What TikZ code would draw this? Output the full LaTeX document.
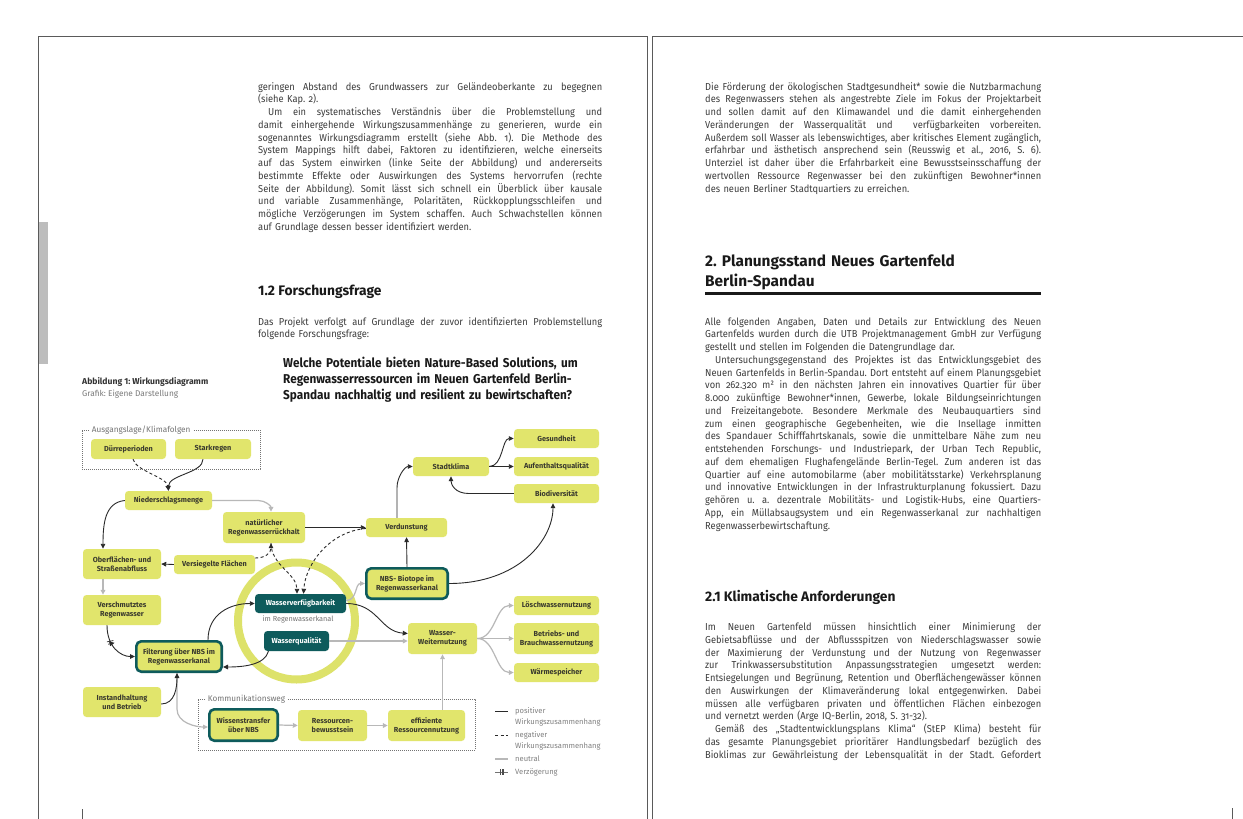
\documentclass[tikz,border=0pt]{standalone}
\usepackage{fontspec}
\setmainfont{Fira Sans}
\newfontfamily\bodyf[FakeStretch=0.92,Numbers=OldStyle]{Fira Sans}
\newfontfamily\condf[FakeStretch=0.92]{Fira Sans}
\usetikzlibrary{arrows.meta,decorations.markings,calc}
\definecolor{boxfill}{HTML}{E1E56C}
\definecolor{ringc}{HTML}{DDE26A}
\definecolor{tealc}{HTML}{0E5B5C}
\definecolor{linedark}{HTML}{2A2A2A}
\definecolor{lineneu}{HTML}{B8B8B8}
\definecolor{nodetxt}{HTML}{3A3A2E}
\definecolor{bodytxt}{HTML}{3C3C3C}
\definecolor{framec}{HTML}{5A5A5A}
\definecolor{capgray}{HTML}{7A7A7A}
\definecolor{barc}{HTML}{BDBDBD}
\newlength\colw
\newcommand\jl[1]{\makebox[\colw][s]{\spaceskip=0.25em plus 2em minus 0.1em\relax #1}\\}
\newcommand\ji[1]{\hspace*{10pt}\makebox[\dimexpr\colw-10pt\relax][s]{\spaceskip=0.25em plus 2em minus 0.1em\relax #1}\\}
\newcommand\nf{\fontsize{7.3}{9.2}\selectfont\bfseries}
\frenchspacing
\tikzset{
  bodytext/.style={anchor=base west, inner sep=0, align=left, text=bodytxt,
    font=\bodyf\fontsize{10.1}{12.75}\selectfont\frenchspacing},
  headtext/.style={anchor=base west, inner sep=0, align=left, text=black!90},
  box/.style={rectangle, rounded corners=3.5pt, fill=boxfill, inner sep=1pt,
    align=center, font=\nf, text=nodetxt},
  nbsbox/.style={box, draw=tealc, line width=2.6pt, rounded corners=5pt},
  darkbox/.style={box, fill=tealc, text=white},
  tipa/.tip={Triangle[length=5pt,width=4.6pt]},
  posl/.style={draw=linedark, line width=0.9pt, -tipa},
  negl/.style={posl, dash pattern=on 3pt off 2.5pt},
  neul/.style={draw=lineneu, line width=1.2pt, -tipa},
  dotframe/.style={draw=black!55, line width=0.6pt, dash pattern=on 0.7pt off 1.3pt},
  framelabel/.style={fill=white, inner xsep=2pt, inner ysep=0pt, anchor=west,
    font=\fontsize{8.2}{10}\selectfont, text=black!55},
  legtext/.style={anchor=base west, inner sep=0, text width=100pt, align=left,
    font=\fontsize{7.6}{10.5}\selectfont, text=black!50},
}
\begin{document}
\begin{tikzpicture}[x=1pt,y=-1pt]
\useasboundingbox (0,0) rectangle (1243,819);
\fill[white] (0,0) rectangle (1243,819);
% page frames
\fill[barc] (38,222) rectangle (48,364);
\draw[framec, line width=0.8pt] (38,819) -- (38,36) -- (647,36) -- (647,819);
\draw[framec, line width=0.8pt] (652,819) -- (652,36) -- (1243,36);
\draw[framec, line width=0.6pt] (82,809) -- (82,819);
\draw[framec, line width=0.6pt] (1232,808) -- (1232,819);

% ---------- left page text
\node[bodytext, text width=344pt] (lp1) at (258,90) {\setlength\colw{344pt}%
\jl{geringen Abstand des Grundwassers zur Geländeoberkante zu begegnen}
(siehe Kap. 2).\\
\ji{Um ein systematisches Verständnis über die Problemstellung und}
\jl{damit einhergehende Wirkungszusammenhänge zu generieren, wurde ein}
\jl{sogenanntes Wirkungsdiagramm erstellt (siehe Abb. 1). Die Methode des}
\jl{System Mappings hilft dabei, Faktoren zu identifizieren, welche einerseits}
\jl{auf das System einwirken (linke Seite der Abbildung) und andererseits}
\jl{bestimmte Effekte oder Auswirkungen des Systems hervorrufen (rechte}
\jl{Seite der Abbildung). Somit lässt sich schnell ein Überblick über kausale}
\jl{und variable Zusammenhänge, Polaritäten, Rückkopplungsschleifen und}
\jl{mögliche Verzögerungen im System schaffen. Auch Schwachstellen können}
auf Grundlage dessen besser identifiziert werden.};

\node[headtext, font=\bfseries\fontsize{13.8}{16}\selectfont] (lh1) at (258,295.5) {1.2 Forschungsfrage};

\node[bodytext, text width=344pt] (lp2) at (258,325) {\setlength\colw{344pt}%
\jl{Das Projekt verfolgt auf Grundlage der zuvor identifizierten Problemstellung}
folgende Forschungsfrage:};

\node[headtext, text width=330pt, font=\condf\bfseries\fontsize{12.8}{16}\selectfont] (lq) at (283,367.5) {%
Welche Potentiale bieten Nature-Based Solutions, um\\
Regenwasserressourcen im Neuen Gartenfeld Berlin-\\
Spandau nachhaltig und resilient zu bewirtschaften?};

\node[headtext, font=\bfseries\fontsize{8.6}{10}\selectfont, text=black!80] (cap1) at (82,384) {Abbildung 1: Wirkungsdiagramm};
\node[headtext, font=\fontsize{8.3}{10}\selectfont, text=capgray] (cap2) at (82,396) {Grafik: Eigene Darstellung};

% ---------- right page text
\node[bodytext, text width=336pt] (rp1) at (705,90) {\setlength\colw{336pt}%
\jl{Die Förderung der ökologischen Stadtgesundheit* sowie die Nutzbarmachung}
\jl{des Regenwassers stehen als angestrebte Ziele im Fokus der Projektarbeit}
\jl{und sollen damit auf den Klimawandel und die damit einhergehenden}
\jl{Veränderungen der Wasserqualität und \ verfügbarkeiten vorbereiten.}
\jl{Außerdem soll Wasser als lebenswichtiges, aber kritisches Element zugänglich,}
\jl{erfahrbar und ästhetisch ansprechend sein (Reusswig et al., 2016, S. 6).}
\jl{Unterziel ist daher über die Erfahrbarkeit eine Bewusstseinsschaffung der}
\jl{wertvollen Ressource Regenwasser bei den zukünftigen Bewohner*innen}
des neuen Berliner Stadtquartiers zu erreichen.};

\node[headtext, text width=340pt, font=\bfseries\fontsize{15.4}{20}\selectfont] (rh1) at (705,266.5) {%
2. Planungsstand Neues Gartenfeld\\Berlin-Spandau};
\draw[black!90, line width=3pt] (705,293.5) -- (1041,293.5);

\node[bodytext, text width=336pt] (rp2) at (705,325) {\setlength\colw{336pt}%
\jl{Alle folgenden Angaben, Daten und Details zur Entwicklung des Neuen}
\jl{Gartenfelds wurden durch die UTB Projektmanagement GmbH zur Verfügung}
gestellt und stellen im Folgenden die Datengrundlage dar.\\
\ji{Untersuchungsgegenstand des Projektes ist das Entwicklungsgebiet des}
\jl{Neuen Gartenfelds in Berlin-Spandau. Dort entsteht auf einem Planungsgebiet}
\jl{von 262.320 m² in den nächsten Jahren ein innovatives Quartier für über}
\jl{8.000 zukünftige Bewohner*innen, Gewerbe, lokale Bildungseinrichtungen}
\jl{und Freizeitangebote. Besondere Merkmale des Neubauquartiers sind}
\jl{zum einen geographische Gegebenheiten, wie die Insellage inmitten}
\jl{des Spandauer Schifffahrtskanals, sowie die unmittelbare Nähe zum neu}
\jl{entstehenden Forschungs- und Industriepark, der Urban Tech Republic,}
\jl{auf dem ehemaligen Flughafengelände Berlin-Tegel. Zum anderen ist das}
\jl{Quartier auf eine automobilarme (aber mobilitätsstarke) Verkehrsplanung}
\jl{und innovative Entwicklungen in der Infrastrukturplanung fokussiert. Dazu}
\jl{gehören u. a. dezentrale Mobilitäts- und Logistik-Hubs, eine Quartiers-}
\jl{App, ein Müllabsaugsystem und ein Regenwasserkanal zur nachhaltigen}
Regenwasserbewirtschaftung.};

\node[headtext, font=\bfseries\fontsize{13.8}{16}\selectfont] (rh2) at (705,601.5) {2.1 Klimatische Anforderungen};

\node[bodytext, text width=336pt] (rp3) at (705,630.5) {\setlength\colw{336pt}%
\jl{Im Neuen Gartenfeld müssen hinsichtlich einer Minimierung der}
\jl{Gebietsabflüsse und der Abflussspitzen von Niederschlagswasser sowie}
\jl{der Maximierung der Verdunstung und der Nutzung von Regenwasser}
\jl{zur Trinkwassersubstitution Anpassungsstrategien umgesetzt werden:}
\jl{Entsiegelungen und Begrünung, Retention und Oberflächengewässer können}
\jl{den Auswirkungen der Klimaveränderung lokal entgegenwirken. Dabei}
\jl{müssen alle verfügbaren privaten und öffentlichen Flächen einbezogen}
und vernetzt werden (Arge IQ-Berlin, 2018, S. 31-32).\\
\ji{Gemäß des „Stadtentwicklungsplans Klima“ (StEP Klima) besteht für}
\jl{das gesamte Planungsgebiet prioritärer Handlungsbedarf bezüglich des}
\makebox[\colw][s]{\spaceskip=0.25em plus 2em minus 0.1em\relax Bioklimas zur Gewährleistung der Lebensqualität in der Stadt. Gefordert}};

% ---------- diagram
\node[circle, draw=ringc, line width=8pt, minimum size=117pt, inner sep=0] (ring) at (296.5,621) {};

\node[dotframe, minimum width=178pt, minimum height=39pt, inner sep=0] (fr1) at (171,449.5) {};
\node[framelabel] (fr1l) at ([xshift=8pt]fr1.north west) {Ausgangslage/Klimafolgen};
\node[dotframe, minimum width=277pt, minimum height=51pt, inner sep=0] (fr2) at (336.5,724.5) {};
\node[framelabel] (fr2l) at ([xshift=8pt]fr2.north west) {Kommunikationsweg};

\node[box, minimum width=75pt, minimum height=20pt] (duerre) at (128.5,449) {Dürreperioden};
\node[box, minimum width=76pt, minimum height=20pt] (stark) at (213,449) {Starkregen};
\node[box, minimum width=87pt, minimum height=19pt] (nieder) at (168.5,500.5) {Niederschlagsmenge};
\node[box, minimum width=82pt, minimum height=31pt] (natur) at (264,527.5) {natürlicher\\Regenwasserrückhalt};
\node[box, minimum width=81pt, minimum height=19pt] (verd) at (406.5,527.5) {Verdunstung};
\node[box, minimum width=81pt, minimum height=19pt] (versieg) at (214.5,564.5) {Versiegelte Flächen};
\node[box, minimum width=78pt, minimum height=30pt] (oberfl) at (122,564) {Oberflächen- und\\Straßenabfluss};
\node[box, minimum width=78pt, minimum height=30pt] (versch) at (122,610) {Verschmutztes\\Regenwasser};
\node[nbsbox, minimum width=85.4pt, minimum height=30.4pt] (filter) at (179,656.5) {Filterung über NBS im\\Regenwasserkanal};
\node[box, minimum width=78pt, minimum height=30pt] (instand) at (122,702) {Instandhaltung\\und Betrieb};
\node[darkbox, minimum width=91pt, minimum height=19pt] (wverf) at (300.5,603.5) {Wasserverfügbarkeit};
\node[inner sep=0, font=\fontsize{7.3}{9}\selectfont, text=black!55] (imreg) at (298,619.5) {im Regenwasserkanal};
\node[darkbox, minimum width=65pt, minimum height=20pt] (wqual) at (296.5,641) {Wasserqualität};
\node[nbsbox, minimum width=81.4pt, minimum height=30.4pt] (nbsbio) at (407,583.5) {NBS- Biotope im\\Regenwasserkanal};
\node[box, minimum width=76pt, minimum height=19pt] (stadt) at (451,466.5) {Stadtklima};
\node[box, minimum width=85pt, minimum height=19pt] (gesund) at (556.5,438.5) {Gesundheit};
\node[box, minimum width=85pt, minimum height=19pt] (aufent) at (556.5,466.5) {Aufenthaltsqualität};
\node[box, minimum width=85pt, minimum height=19pt] (biodiv) at (556.5,493.5) {Biodiversität};
\node[box, minimum width=69pt, minimum height=31pt] (weiter) at (442.5,638.5) {Wasser-\\Weiternutzung};
\node[box, minimum width=85pt, minimum height=19pt] (loesch) at (556.5,605.5) {Löschwassernutzung};
\node[box, minimum width=85pt, minimum height=31pt] (betrieb) at (556.5,638.5) {Betriebs- und\\Brauchwassernutzung};
\node[box, minimum width=85pt, minimum height=19pt] (waerme) at (556.5,672.5) {Wärmespeicher};
\node[nbsbox, minimum width=68.4pt, minimum height=31.4pt] (wissen) at (243.5,725) {Wissenstransfer\\über NBS};
\node[box, minimum width=69pt, minimum height=31pt] (ressb) at (332.5,725.5) {Ressourcen-\\bewusstsein};
\node[box, minimum width=77pt, minimum height=31pt] (effiz) at (426.5,725.5) {effiziente\\Ressourcennutzung};

% neutral connectors
\draw[neul] (nieder.east) -- ++(46,0) .. controls +(7,0) and +(0,-6) .. ([xshift=7pt]natur.north);
\draw[neul] ([xshift=-19pt]oberfl.south) -- ([xshift=-19pt]versch.north);
\draw[neul] ([xshift=-2pt]filter.south) -- ++(0,36) .. controls +(0,14) and +(-12,0) .. ([yshift=-2pt]wissen.west);
\draw[neul] ([yshift=3pt]wverf.east) .. controls +(11,0) and +(-10,0) .. (nbsbio.west);
\draw[neul] (wqual.east) -- (wqual.east -| weiter.west);
\draw[neul] (wissen.east) -- (ressb.west);
\draw[neul] (ressb.east) -- (effiz.west);
\draw[neul] (weiter.south |- effiz.north) -- (weiter.south);
\draw[neul] (weiter.east) .. controls +(18,0) and +(-18,0) .. (loesch.west);
\draw[neul] (weiter.east) -- (betrieb.west);
\draw[neul] (weiter.east) .. controls +(18,0) and +(-18,0) .. (waerme.west);

% positive connectors
\draw[posl] (stark.south) ++(-10,0) .. controls +(0,14) and +(0,-16) .. (nieder.north);
\draw[posl] (nieder.west) .. controls +(-20,2) and +(0,-25) .. ([xshift=-19pt]oberfl.north);
\draw[posl] (versieg.west) -- (oberfl.east);
\draw[posl, postaction={decorate}, decoration={markings, mark=at position 0.36 with {\draw[linedark, line width=0.7pt, solid] (-1.4pt,-3.2pt) -- (0.2pt,3.2pt) (1.2pt,-3.2pt) -- (2.8pt,3.2pt);}}]
  ([xshift=-15pt]versch.south) .. controls +(0,22) and +(-14,0) .. (filter.west);
\draw[posl] ([yshift=-2pt]instand.east) .. controls +(14,0) and +(0,14) .. ([xshift=-2pt]filter.south);
\draw[posl] ([xshift=29pt]filter.north) .. controls +(0,-26) and +(-25,0) .. (wverf.west);
\draw[posl] ([xshift=-28pt]wqual.south) .. controls +(-4,14) and +(20,0) .. ([yshift=-10.5pt]filter.east);
\draw[posl] (wverf.east) .. controls +(32,0) and +(-28,-2) .. ([yshift=5pt]weiter.west);
\draw[posl] (natur.east) -- (verd.west);
\draw[posl] (nbsbio.north) -- (verd.south);
\draw[posl] (nbsbio.east) .. controls +(70,0) and +(0,36) .. ([xshift=-3.5pt]biodiv.south);
\draw[posl] ([xshift=-9.5pt]verd.north) -- ++(0,-30) .. controls +(0,-11) and +(-8,0) .. (stadt.west);
\draw[posl] (stadt.east) .. controls +(14,0) and +(-12,0) .. (gesund.west);
\draw[posl] (stadt.east) -- (aufent.west);
\draw[posl] (biodiv.west) -- ++(-45,0) .. controls +(-14,0) and +(0,8) .. (stadt.south);

% negative connectors
\draw[negl] (duerre.south) ++(4.5,0) .. controls +(3,12) and +(-2,-14) .. (nieder.north);
\draw[negl] ([yshift=6.5pt]versieg.east) .. controls +(10,0) and +(0,10) .. ([xshift=7pt]natur.south);
\draw[negl] ([xshift=7pt]natur.south) .. controls +(0,22) and +(0,-20) .. ([xshift=-3.5pt]wverf.north);
\draw[negl] ([yshift=-1pt]verd.west) .. controls +(-36,3) and +(2,-30) .. ([xshift=3pt]wverf.north);

% legend
\coordinate (la1) at (495,711); \coordinate (la2) at (508,711);
\draw[linedark, line width=0.9pt] (la1) -- (la2);
\node[legtext] (lg1) at (515,713.5) {positiver\\Wirkungszusammenhang};
\coordinate (lb1) at (495,735); \coordinate (lb2) at (508,735);
\draw[linedark, line width=0.9pt, dash pattern=on 3pt off 2.5pt] (lb1) -- (lb2);
\node[legtext] (lg2) at (515,737.5) {negativer\\Wirkungszusammenhang};
\coordinate (lc1) at (495,759); \coordinate (lc2) at (508,759);
\draw[lineneu, line width=1.2pt] (lc1) -- (lc2);
\node[legtext] (lg3) at (515,761.5) {neutral};
\coordinate (ld1) at (495,772); \coordinate (ld2) at (508,772);
\draw[black!55, line width=1pt] (ld1) -- (ld2);
\draw[black!70, line width=1.2pt] (500.3,769) -- (500.3,775) (503,769) -- (503,775);
\node[legtext] (lg4) at (515,774.5) {Verzögerung};
\end{tikzpicture}
\end{document}
